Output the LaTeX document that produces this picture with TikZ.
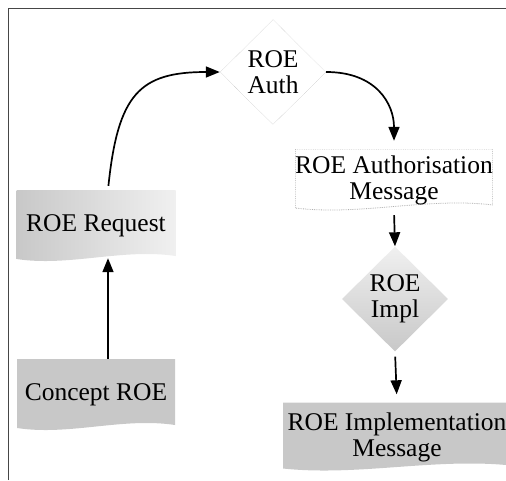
\documentclass[tikz,border=0pt]{standalone}
\usepackage{fontspec}
\setmainfont{Liberation Serif}
\usepackage{tikz}
\definecolor{greyish}{RGB}{200, 200, 200}
\definecolor{palegreyish}{RGB}{240, 240, 240}
\definecolor{dotgrey}{RGB}{175, 175, 175}
\definecolor{framegrey}{RGB}{70, 70, 70}
\usetikzlibrary{arrows.meta, shapes.geometric, calc}
\tikzset{
  flownode/.style = {align=center, inner sep=0pt, text centered,
    font=\fontsize{25.5}{26}\selectfont},
  flow_doc/.style = {flownode, rectangle, path picture={
      \coordinate (pp_sw) at (path picture bounding box.south west);
      \coordinate (pp_se) at (path picture bounding box.south east);
      \path[#1] (path picture bounding box.north west)
        -- (path picture bounding box.north east)
        -- ([yshift=6pt]pp_se)
        .. controls ($(pp_sw)!0.67!(pp_se)+(0,14pt)$) and ($(pp_sw)!0.33!(pp_se)+(0,-5pt)$)
        .. ([yshift=3pt]pp_sw) -- cycle;
    }},% document, wavy bottom
  flow_dec/.style = {flownode, diamond, minimum width=106pt,
    minimum height=105pt},% decision
  flow_arr/.style = {-{Triangle[length=14pt,width=11pt]}, line width=1.7pt},
}

\begin{document}
\begin{tikzpicture}[x=1pt, y=-1pt]
\useasboundingbox (0,0) rectangle (506,480);
\draw[framegrey, line width=1pt] (8,480) -- (8,8) -- (506,8);

\node [flow_doc={left color=greyish, right color=palegreyish},
  minimum width=159pt, minimum height=72pt] (req) at (96,226) {ROE Request};
\node [flow_doc={fill=greyish}, minimum width=158pt, minimum height=72pt]
  (concept) at (96,395) {Concept ROE};
\node [flow_dec, fill=white, draw=dotgrey, densely dotted] (auth) at (273,72)
  {ROE\\Auth};
\node [flow_doc={fill=white, draw=dotgrey, densely dotted, line width=0.8pt},
  minimum width=196pt, minimum height=62pt] (authmsg) at (394,180)
  {ROE Authorisation\\Message};
\node [flow_dec, top color=palegreyish, bottom color=greyish] (impl) at (395,299)
  {ROE\\Impl};
\node [flow_doc={fill=greyish}, minimum width=228pt, minimum height=69pt]
  (implmsg) at (397,437) {ROE Implementation\\Message};

\draw [flow_arr] ([xshift=12pt]concept.north) -- ([xshift=12pt,yshift=4pt]req.south);
\draw [flow_arr, shorten <=4pt] ([xshift=12pt]req.north)
  .. controls +(10,-96) and +(-80,0) .. (auth.west);
\draw [flow_arr, shorten >=8pt] (auth.east)
  .. controls +(50,0) and +(0,-45) .. (authmsg.north);
\draw [flow_arr, shorten <=4pt] (authmsg.south) -- (impl.north);
\draw [flow_arr, shorten <=5pt, shorten >=8pt] (impl.south) -- (implmsg.north);
\end{tikzpicture}
\end{document}
